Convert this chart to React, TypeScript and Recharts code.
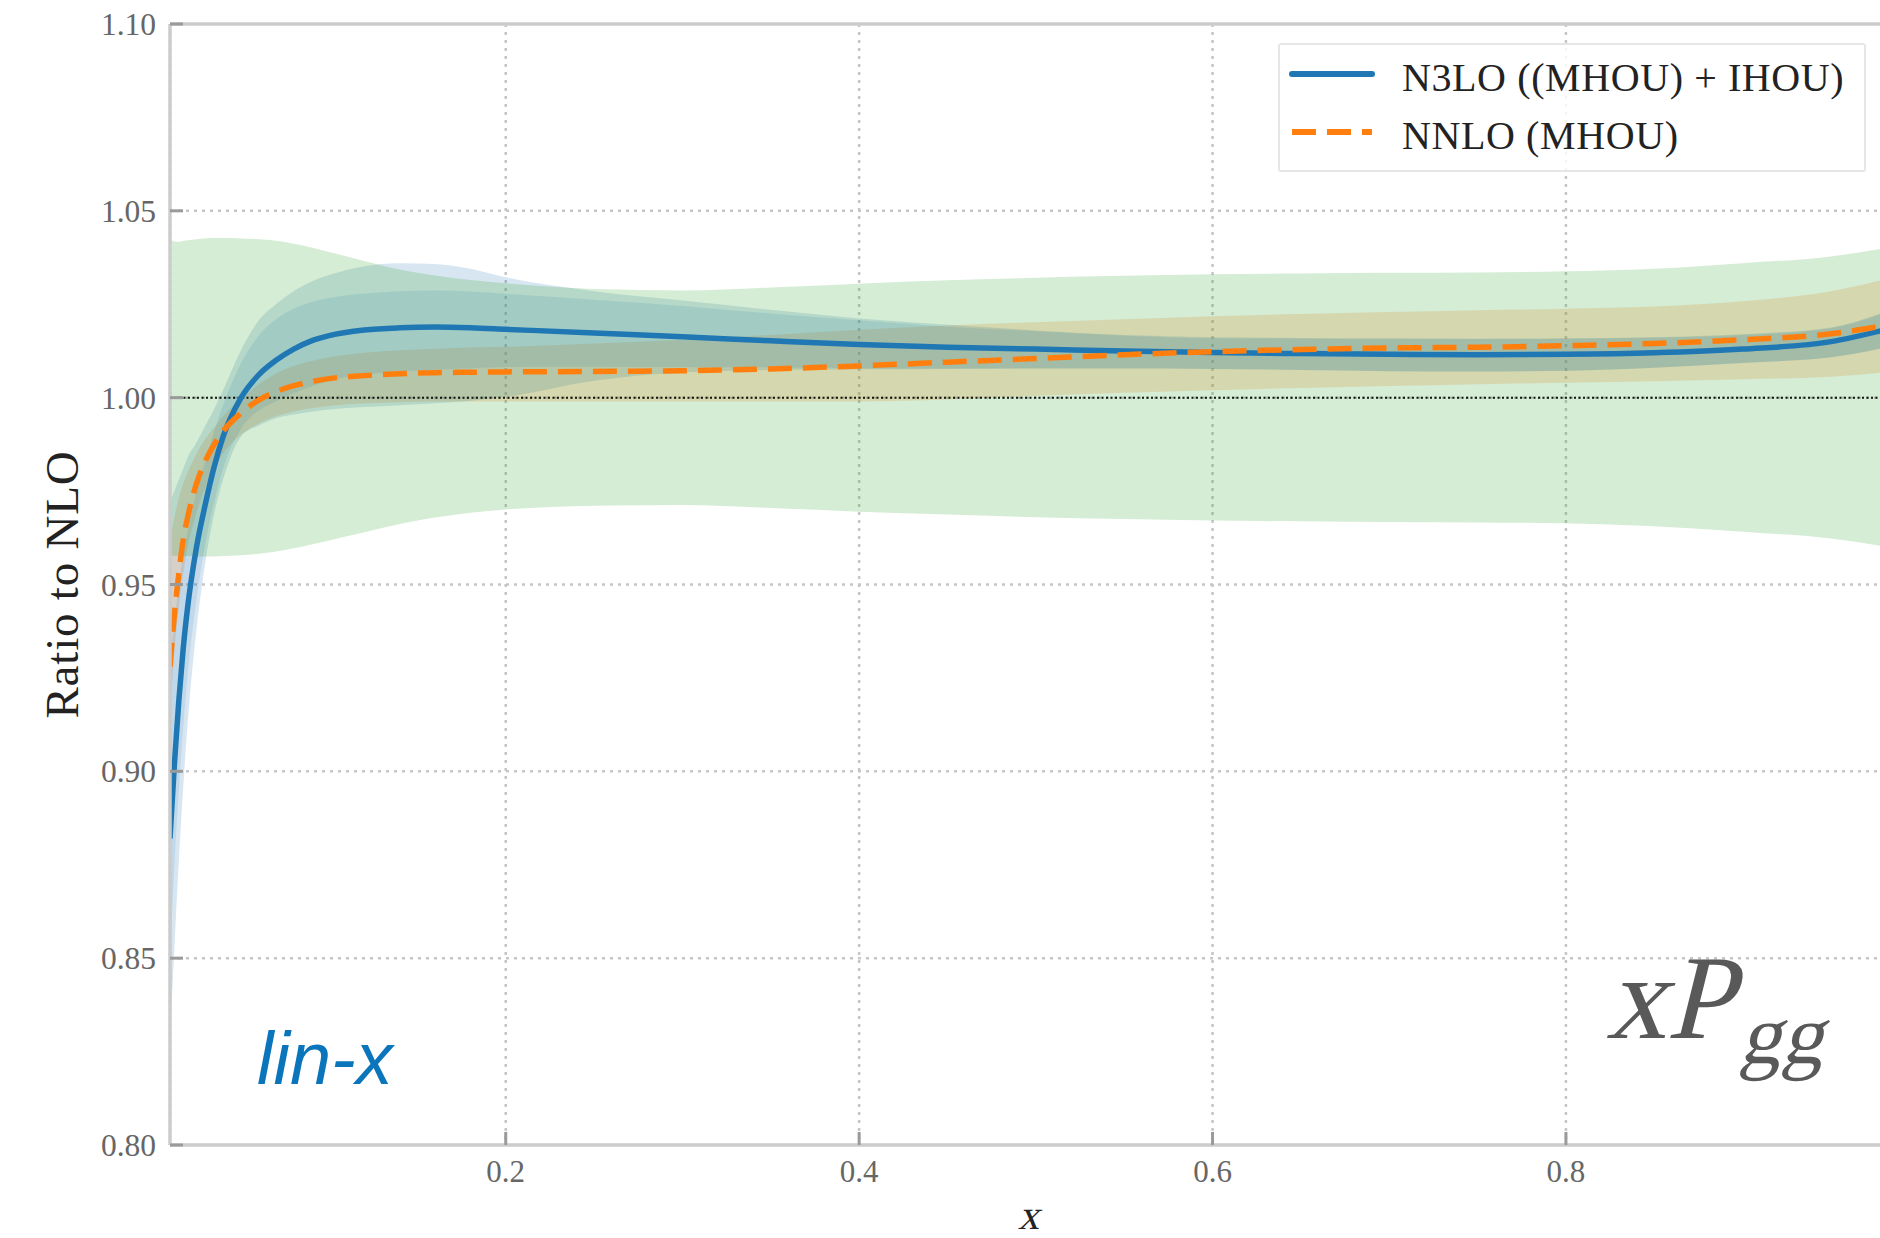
import {
  ComposedChart, Area, Line, XAxis, YAxis, CartesianGrid, ReferenceLine, Legend, Label,
} from "recharts";

const SERIF = '"Liberation Serif", "Times New Roman", serif';
const SANS = '"Liberation Sans", Arial, sans-serif';

const BLUE = "#1f77b4";
const ORANGE = "#ff7f0e";
const GREEN = "#2ca02c";

// x sampling of the splitting-function ratios
const xGrid = [
  0.01, 0.0125, 0.015, 0.0175, 0.02, 0.025, 0.03, 0.035, 0.04, 0.05, 0.06, 0.07,
  0.08, 0.09, 0.1, 0.12, 0.14, 0.16, 0.18, 0.2, 0.25, 0.3, 0.35, 0.4, 0.45, 0.5,
  0.55, 0.6, 0.65, 0.7, 0.75, 0.8, 0.85, 0.9, 0.95, 0.98,
];

// central values, ratio to NLO
const n3lo = [
  0.882, 0.902, 0.919, 0.933, 0.944, 0.96, 0.9715, 0.9815, 0.9895, 0.9998, 1.006, 1.0100,
  1.0130, 1.0152, 1.0166, 1.0181, 1.0187, 1.0189, 1.0187, 1.0183, 1.0173, 1.0163, 1.0152, 1.0142, 1.0135, 1.013,
  1.0125, 1.0121, 1.0118, 1.0116, 1.0115, 1.0116, 1.012, 1.013, 1.015, 1.0181,
];
const nnlo = [
  0.928, 0.942, 0.953, 0.962, 0.968, 0.977, 0.983, 0.9875, 0.991, 0.9958, 0.9993, 1.0016,
  1.0032, 1.0043, 1.0051, 1.0059, 1.0064, 1.0067, 1.0068, 1.0069, 1.007, 1.0072, 1.0077, 1.0085, 1.0095, 1.0105,
  1.0115, 1.0123, 1.0129, 1.0133, 1.0135, 1.0139, 1.0145, 1.0155, 1.0171, 1.0193,
];

// uncertainty bands [low, high]
const n3loTotalBand = [
  [0.828, 0.972], [0.853, 0.975], [0.876, 0.978], [0.896, 0.981], [0.913, 0.984], [0.938, 0.988],
  [0.956, 0.9925], [0.969, 0.997], [0.978, 1.002], [0.9895, 1.0125], [0.9925, 1.0205], [0.9945, 1.025],
  [0.9955, 1.0285], [0.9962, 1.031], [0.9968, 1.0328], [0.9975, 1.0352], [0.998, 1.036], [0.9985, 1.0358],
  [0.9992, 1.0345], [1.0002, 1.0322], [1.0045, 1.0285], [1.0068, 1.026], [1.0074, 1.0235], [1.0076, 1.0212],
  [1.0077, 1.0195], [1.0078, 1.018], [1.0078, 1.0168], [1.0077, 1.0162], [1.0074, 1.016], [1.0071, 1.0159],
  [1.007, 1.0158], [1.0072, 1.0159], [1.008, 1.0162], [1.0093, 1.017], [1.0108, 1.0188], [1.0133, 1.0229],
];
const n3loMhouBand = [
  [0.85, 0.93], [0.875, 0.94], [0.895, 0.95], [0.912, 0.958], [0.926, 0.964], [0.946, 0.975],
  [0.961, 0.983], [0.972, 0.991], [0.981, 0.998], [0.9915, 1.009], [0.9965, 1.0165], [0.999, 1.021],
  [1.0012, 1.0238], [1.003, 1.0256], [1.0045, 1.0267], [1.0062, 1.0279], [1.007, 1.0285], [1.0075, 1.0287],
  [1.0079, 1.0284], [1.0082, 1.0278], [1.0083, 1.0262], [1.0082, 1.0245], [1.0081, 1.0225], [1.0079, 1.0207],
  [1.0078, 1.019], [1.0078, 1.0178], [1.0078, 1.0166], [1.0077, 1.0159], [1.0074, 1.0158], [1.0071, 1.0157],
  [1.007, 1.0157], [1.0072, 1.0158], [1.008, 1.0161], [1.0093, 1.0168], [1.0108, 1.0186], [1.0133, 1.0226],
];
const nnloBand = [
  [0.915, 0.962], [0.932, 0.968], [0.944, 0.973], [0.953, 0.977], [0.96, 0.98], [0.969, 0.985],
  [0.976, 0.989], [0.981, 0.992], [0.985, 0.995], [0.99, 0.9995], [0.993, 1.0035], [0.995, 1.0065],
  [0.9963, 1.0085], [0.9972, 1.0098], [0.9978, 1.0108], [0.9985, 1.012], [0.9988, 1.0127], [0.999, 1.0131],
  [0.999, 1.0134], [0.999, 1.0136], [0.999, 1.0145], [0.999, 1.0155], [0.999, 1.0168], [0.999, 1.0182],
  [0.9995, 1.0193], [1.0005, 1.0202], [1.0013, 1.021], [1.002, 1.0218], [1.0026, 1.0224], [1.0031, 1.0229],
  [1.0036, 1.0234], [1.004, 1.0238], [1.0044, 1.0244], [1.0049, 1.0258], [1.0056, 1.0285], [1.0068, 1.0316],
];
const nloBand = [
  [0.9577, 1.0424], [0.9577, 1.0418], [0.9576, 1.0417], [0.9576, 1.0419], [0.9576, 1.0421], [0.9575, 1.0424],
  [0.9575, 1.0426], [0.9575, 1.0427], [0.9576, 1.0427], [0.9578, 1.0426], [0.9582, 1.0424], [0.9588, 1.042],
  [0.9597, 1.0412], [0.9607, 1.0402], [0.9618, 1.039], [0.964, 1.0366], [0.9662, 1.0343], [0.9679, 1.0327],
  [0.9692, 1.0315], [0.9701, 1.0306], [0.9711, 1.0291], [0.9713, 1.0287], [0.9705, 1.0295], [0.9695, 1.0305],
  [0.9687, 1.0314], [0.968, 1.0321], [0.9675, 1.0326], [0.9671, 1.033], [0.9669, 1.0332], [0.9667, 1.0334],
  [0.9666, 1.0335], [0.9664, 1.0338], [0.9656, 1.0345], [0.9641, 1.036], [0.9623, 1.0378], [0.9602, 1.04],
];

const xTicks = [0.2, 0.4, 0.6, 0.8];
const yTicks = [0.8, 0.85, 0.9, 0.95, 1.0, 1.05, 1.1];

const rows = xGrid.map((x, i) => ({
  x,
  n3lo: n3lo[i],
  nnlo: nnlo[i],
  n3loTotal: n3loTotalBand[i],
  n3loMhou: n3loMhouBand[i],
  nnloMhou: nnloBand[i],
  nloMhou: nloBand[i],
}));

const DASHES: Record<string, string | undefined> = { n3lo: undefined, nnlo: "24 11" };

// slanted serif text (math-italic look)
const MathText = ({ x, y, size, fill, children }: any) => (
  <g transform={`translate(${x},${y}) skewX(-14)`}>
    <text x={0} y={0} fontFamily={SERIF} fontSize={size} fill={fill}>{children}</text>
  </g>
);

const XTick = ({ x, y, payload }: any) => (
  <g>
    <line x1={x} x2={x} y1={y} y2={y - 13} stroke="#9a9a9a" strokeWidth={3} />
    <text x={x} y={y + 37} textAnchor="middle" fontFamily={SERIF} fontSize={31} fill="#666">
      {String(payload.value)}
    </text>
  </g>
);

const YTick = ({ x, y, payload }: any) => (
  <g>
    <line x1={x} x2={x + 13} y1={y} y2={y} stroke="#9a9a9a" strokeWidth={3} />
    <text x={x - 14} y={y + 11} textAnchor="end" fontFamily={SERIF} fontSize={31.5} fill="#666">
      {Number(payload.value).toFixed(2)}
    </text>
  </g>
);

const XTitle = ({ viewBox }: any) => {
  const vb = viewBox || { x: 170, y: 1145, width: 1714 };
  return <MathText x={vb.x + vb.width / 2 - 9} y={vb.y + 84} size={42} fill="#222">x</MathText>;
};

const YTitle = ({ viewBox }: any) => {
  const vb = viewBox || { y: 24, height: 1121 };
  const cy = vb.y + vb.height / 2;
  return (
    <text x={78} y={cy} transform={`rotate(-90, 78, ${cy})`} textAnchor="middle"
      fontFamily={SERIF} fontSize={47} letterSpacing={0.8} fill="#222">Ratio to NLO</text>
  );
};

const LegendBox = ({ payload }: any) => {
  const items = (payload || []).filter((p: any) => p.type !== "none");
  return (
    <div style={{
      width: 588, height: 129, boxSizing: "border-box", border: "2px solid #e6e6e6",
      borderRadius: 3, background: "rgba(255,255,255,0.8)",
    }}>
      <svg width={584} height={125} style={{ display: "block" }}>
        {items.map((p: any, i: number) => {
          const cy = 29 + i * 58;
          const dash = DASHES[p.dataKey];
          return (
            <g key={p.value}>
              <line x1={12} x2={92} y1={cy} y2={cy} stroke={p.color} strokeWidth={6}
                strokeDasharray={dash} strokeLinecap={dash ? "butt" : "round"} />
              <text x={122} y={cy + 17} fontFamily={SERIF} fontSize={40} letterSpacing={0.6} fill="#222">
                {p.value}
              </text>
            </g>
          );
        })}
      </svg>
    </div>
  );
};

export default function App() {
  return (
    <div style={{ position: "absolute", left: 0, top: 0, width: 1880, height: 1238, overflow: "hidden", background: "#fff" }}>
      <ComposedChart width={1890} height={1238} data={rows} margin={{ top: 24, right: 6, bottom: 0, left: 0 }}>
        <CartesianGrid stroke="#c6c6c6" strokeWidth={2.5} strokeDasharray="3 5" />
        <XAxis
          dataKey="x" type="number" domain={[0.01, 0.98]} ticks={xTicks} allowDataOverflow
          height={93} tickSize={0} tickMargin={0} tick={<XTick />}
          axisLine={{ stroke: "#cccccc", strokeWidth: 3.5 }} tickLine={false}
        >
          <Label content={<XTitle />} />
        </XAxis>
        <YAxis
          type="number" domain={[0.8, 1.1]} ticks={yTicks} allowDataOverflow
          width={170} tickSize={0} tickMargin={0} tick={<YTick />}
          axisLine={{ stroke: "#cccccc", strokeWidth: 3.5 }} tickLine={false}
        >
          <Label content={<YTitle />} />
        </YAxis>
        <ReferenceLine y={1.1} stroke="#cccccc" strokeWidth={3.5} />

        <Area dataKey="nnloMhou" type="monotone" stroke="none" fill={ORANGE} fillOpacity={0.2}
          legendType="none" isAnimationActive={false} />
        <Area dataKey="n3loTotal" type="monotone" stroke="none" fill={BLUE} fillOpacity={0.18}
          legendType="none" isAnimationActive={false} />
        <Area dataKey="n3loMhou" type="monotone" stroke="none" fill={BLUE} fillOpacity={0.12}
          legendType="none" isAnimationActive={false} />
        <Area dataKey="nloMhou" type="monotone" stroke="none" fill={GREEN} fillOpacity={0.2}
          legendType="none" isAnimationActive={false} />

        <ReferenceLine y={1} stroke="#111" strokeWidth={2} strokeDasharray="2 2.5" />

        <Line dataKey="n3lo" name="N3LO ((MHOU) + IHOU)" type="monotone" stroke={BLUE} strokeWidth={5.5}
          dot={false} activeDot={false} isAnimationActive={false} />
        <Line dataKey="nnlo" name="NNLO (MHOU)" type="monotone" stroke={ORANGE} strokeWidth={5.5}
          strokeDasharray={DASHES.nnlo} dot={false} activeDot={false} isAnimationActive={false} />

        <Legend
          layout="horizontal" verticalAlign="middle" align="center"
          content={<LegendBox />}
          wrapperStyle={{ left: 1278, top: 43, width: 588, height: 129 }}
        />
      </ComposedChart>

      <svg width={1880} height={1238} style={{ position: "absolute", left: 0, top: 0, pointerEvents: "none" }}>
        <text x={257} y={1084} fontFamily={SANS} fontStyle="italic" fontSize={74} fill="#0b75bc">lin-x</text>
        <MathText x={1606} y={1038} size={120} fill="#595959">xP</MathText>
        <MathText x={1739} y={1063} size={84} fill="#595959">gg</MathText>
      </svg>
    </div>
  );
}
